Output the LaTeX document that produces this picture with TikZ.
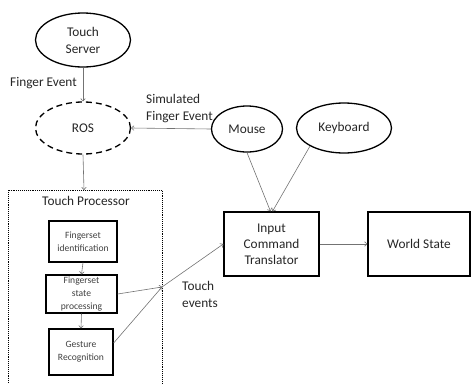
\documentclass[tikz,border=0pt]{standalone}
\usepackage{fontspec}
\setmainfont{Carlito}
\usetikzlibrary{shapes.geometric,arrows.meta,calc}
\begin{document}
\begin{tikzpicture}[x=1pt,y=-1pt,
  ell/.style={ellipse,draw,line width=1.3pt,inner sep=0pt,align=center,text=black!85,font=\fontsize{13.3}{17}\selectfont},
  bigbox/.style={rectangle,draw,line width=1.3pt,inner sep=0pt,align=center,text=black!85,font=\fontsize{13.3}{16}\selectfont},
  smallbox/.style={rectangle,draw,line width=1.3pt,inner sep=0pt,align=center,text=black!75,font=\fontsize{9.6}{13}\selectfont},
  arr/.style={draw=black!55, line width=0.6pt, -{To[length=3pt,width=5pt]}},
  lbl/.style={inner sep=0pt,align=left,text=black!85,font=\fontsize{13.3}{17}\selectfont}]
\useasboundingbox (0,0) rectangle (471,383);

\node[ell, minimum width=95, minimum height=54] (ts) at (83,40) {Touch\\Server};
\node[ell, dash pattern=on 6pt off 4pt, minimum width=95, minimum height=52] (ros) at (83,128) {ROS};
\node[ell, minimum width=71, minimum height=46] (mouse) at (247,129) {Mouse};
\node[ell, minimum width=95, minimum height=50] (kb) at (344,128) {Keyboard};
\node[bigbox, minimum width=95, minimum height=64] (ict) at (271.5,244) {Input\\Command\\Translator};
\node[bigbox, minimum width=102, minimum height=64] (ws) at (419,244) {World State};

\draw[densely dotted, line width=0.9pt] (8,383) -- (8,190) -- (162,190) -- (162,383);
\coordinate (tptop) at (84,190);
\node[lbl] (tplbl) at (86,201) {Touch Processor};

\node[smallbox, minimum width=68, minimum height=41] (fi) at (83,241.5) {Fingerset\\identification};
\node[smallbox, minimum width=71, minimum height=38] (fsp) at (81.5,294) {Fingerset\\state\\processing};
\node[smallbox, minimum width=64, minimum height=46] (gr) at (81,352) {Gesture\\Recognition};
\coordinate (j) at (162,287);

\draw[arr] (ts.south) -- (ros.north);
\draw[arr] (ros.south) -- (tptop);
\draw[arr] (mouse.west) -- (ros.east);
\draw[arr] (mouse.south) -- ([xshift=-1pt]ict.north);
\draw[arr] (kb.south west) -- ([xshift=1pt]ict.north);
\draw[arr] (ict.east) -- (ws.west);
\draw[arr] (fi.south) -- (fsp.north);
\draw[arr] (fsp.south) -- (gr.north);
\draw[arr] (fsp.east) -- (j);
\draw[arr] ($(gr.east)+(0,-9)$) -- (j);
\draw[arr] (j) -- (ict.west);

\node[lbl, anchor=west] (fe) at (10,83) {Finger Event};
\node[lbl, anchor=west] (sfe) at (146,109) {Simulated\\Finger Event};
\node[lbl, anchor=west] (te) at (182,294.5) {Touch\\events};
\end{tikzpicture}
\end{document}
